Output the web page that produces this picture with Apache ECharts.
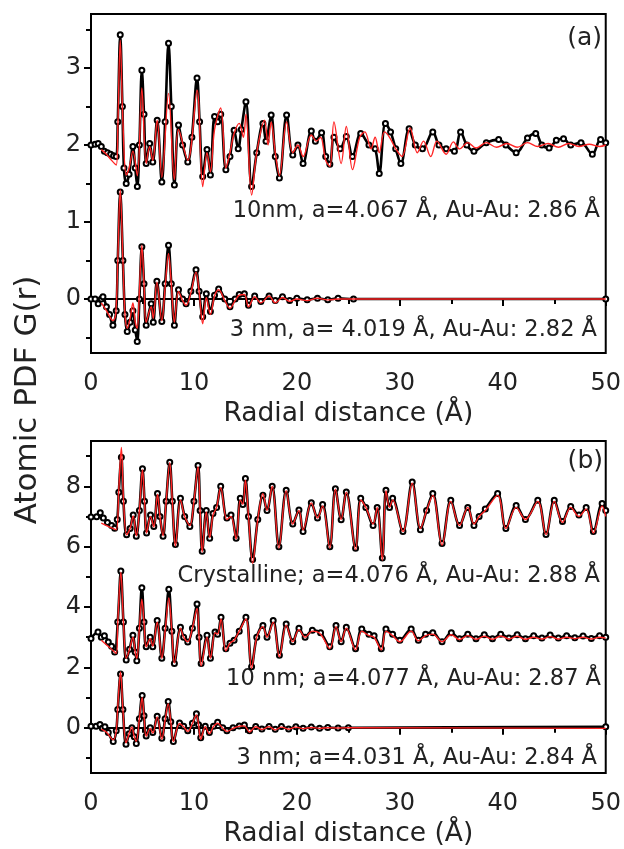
<!DOCTYPE html>
<html>
<head>
<meta charset="utf-8">
<script src="https://cdn.jsdelivr.net/npm/echarts@6/dist/echarts.min.js"></script>
<style>html,body{margin:0;padding:0;background:#fff}#chart{width:624px;height:849px}</style>
</head>
<body>
<div id="chart"></div>
<script>
// r (Å), G(r); curves already include their vertical offsets
const a10Exp = [[0.0,2.0],[0.4,2.01],[0.7,2.02],[1.0,1.98],[1.3,1.92],[1.6,1.9],[1.9,1.88],[2.2,1.86],[2.45,1.85],[2.6,2.3],[2.84,3.43],[3.05,2.5],[3.2,1.7],[3.42,1.5],[3.7,1.62],[4.07,1.98],[4.3,1.7],[4.5,1.46],[4.7,2.0],[4.94,2.97],[5.15,2.4],[5.36,1.76],[5.7,2.02],[6.0,1.78],[6.43,2.32],[6.88,1.52],[7.2,2.3],[7.53,3.32],[7.8,2.5],[8.1,1.48],[8.5,2.26],[8.9,2.0],[9.4,1.78],[9.8,2.1],[10.3,2.87],[10.55,2.3],[10.85,1.59],[11.27,1.94],[11.6,1.61],[12.0,2.37],[12.3,2.3],[12.6,2.4],[13.1,1.68],[13.5,1.85],[13.9,2.19],[14.3,1.95],[14.6,2.2],[15.05,2.56],[15.6,1.46],[16.1,1.9],[16.7,2.28],[17.0,2.05],[17.5,2.39],[17.9,1.85],[18.3,1.57],[19.0,2.39],[19.6,1.87],[20.1,2.0],[20.6,1.76],[21.4,2.18],[21.8,2.05],[22.4,2.16],[22.8,1.85],[23.2,1.75],[23.6,2.1],[24.2,1.95],[24.8,2.11],[25.4,1.85],[26.2,2.15],[27.0,2.0],[27.6,1.95],[28.0,1.63],[28.6,2.28],[29.1,2.17],[29.6,1.95],[30.1,1.76],[30.9,2.21],[31.5,2.0],[32.2,1.95],[33.2,2.17],[33.8,2.0],[34.5,1.95],[35.3,1.92],[35.9,2.17],[36.5,2.0],[37.2,1.92],[38.4,2.03],[39.6,2.07],[40.3,2.0],[41.3,1.9],[42.4,2.09],[43.2,2.15],[43.8,2.0],[44.5,1.96],[45.2,2.06],[45.9,2.08],[46.6,2.0],[47.6,2.03],[48.7,1.88],[49.5,2.07],[50.0,2.03]];
const a10Fit = [[1.0,1.94],[1.5,1.88],[2.0,1.8],[2.45,1.74],[2.6,2.2],[2.84,3.36],[3.1,2.3],[3.42,1.61],[3.7,1.7],[4.07,1.92],[4.5,1.6],[4.94,2.74],[5.36,1.76],[5.7,1.98],[6.0,1.8],[6.43,2.32],[6.88,1.58],[7.53,2.67],[8.1,1.55],[8.5,2.2],[9.4,1.8],[10.3,2.71],[10.85,1.46],[11.27,1.9],[11.6,1.65],[12.0,2.2],[12.6,2.48],[13.1,1.7],[13.5,1.9],[13.9,2.15],[14.4,2.28],[14.8,2.1],[15.05,2.4],[15.6,1.35],[16.1,1.9],[16.86,2.32],[17.2,2.0],[17.5,2.3],[17.9,1.9],[18.3,1.6],[19.0,2.3],[19.6,1.9],[20.1,2.0],[20.6,1.85],[21.4,2.13],[21.9,2.05],[22.3,2.1],[22.8,1.8],[23.2,1.72],[23.6,2.3],[24.3,1.76],[24.8,2.24],[25.4,1.68],[26.1,2.1],[26.6,2.17],[27.2,1.95],[27.6,2.1],[28.0,1.9],[28.5,2.17],[29.0,2.1],[29.6,1.95],[30.2,1.85],[31.0,2.22],[31.7,1.9],[32.3,2.05],[33.0,1.85],[33.6,2.05],[34.5,1.88],[35.2,2.04],[35.8,1.95],[36.6,2.03],[37.4,1.96],[38.4,2.03],[39.4,1.97],[40.4,2.02],[41.4,1.97],[42.4,2.03],[43.4,1.98],[44.4,2.02],[45.4,1.97],[46.4,2.02],[47.4,1.98],[48.4,2.01],[49.4,1.98],[50.0,2.0]];
const a3Exp = [[0.0,0.0],[0.4,0.0],[0.7,-0.06],[1.0,0.0],[1.16,0.03],[1.5,-0.1],[1.8,-0.2],[2.13,-0.34],[2.45,-0.15],[2.6,0.5],[2.84,1.39],[3.1,0.5],[3.3,-0.2],[3.52,-0.42],[3.8,-0.3],[4.07,-0.15],[4.3,-0.4],[4.49,-0.55],[4.7,0.0],[4.94,0.68],[5.15,0.2],[5.36,-0.34],[5.85,-0.06],[6.05,-0.3],[6.4,0.23],[6.88,-0.29],[7.2,0.2],[7.53,0.70],[7.8,0.2],[8.1,-0.34],[8.5,0.12],[8.9,0.0],[9.24,-0.06],[9.7,0.1],[10.2,0.38],[10.5,0.1],[10.85,-0.23],[11.2,0.07],[11.6,-0.16],[12.0,0.05],[12.4,0.13],[13.0,0.0],[13.5,-0.1],[14.0,0.0],[14.4,0.06],[14.9,0.07],[15.3,-0.08],[15.9,0.04],[16.5,-0.03],[17.3,0.04],[17.9,-0.02],[18.6,0.03],[19.3,-0.02],[20.0,0.01],[21.0,-0.01],[22.0,0.01],[23.0,-0.01],[24.0,0.01],[25.5,0.0],[50.0,0.0]];
const a3Fit = [[1.0,-0.05],[1.5,-0.15],[2.13,-0.28],[2.4,-0.2],[2.6,0.5],[2.84,1.42],[3.1,0.5],[3.3,-0.2],[3.52,-0.38],[3.8,-0.25],[4.07,-0.05],[4.3,-0.3],[4.49,-0.38],[4.7,0.1],[4.94,0.7],[5.15,0.2],[5.36,-0.3],[5.85,-0.1],[6.05,-0.25],[6.4,0.22],[6.88,-0.28],[7.2,0.15],[7.53,0.59],[7.8,0.2],[8.1,-0.3],[8.5,0.1],[8.9,-0.02],[9.24,-0.08],[9.7,0.08],[10.2,0.35],[10.5,0.1],[10.85,-0.32],[11.2,0.02],[11.6,-0.2],[12.0,0.04],[12.4,0.12],[13.0,-0.02],[13.5,-0.12],[14.0,-0.02],[14.4,0.05],[14.9,0.06],[15.3,-0.1],[15.9,0.03],[16.5,-0.05],[17.3,0.04],[17.9,-0.05],[18.6,0.02],[19.3,-0.03],[20.0,0.0],[21.0,-0.02],[22.0,0.01],[23.0,-0.01],[24.0,0.0],[50.0,0.0]];

const bcExp = [[0.0,6.98],[0.55,6.99],[0.9,7.12],[1.2,6.95],[1.6,6.8],[2.0,6.7],[2.3,6.61],[2.55,6.9],[2.7,7.8],[2.95,8.96],[3.15,7.5],[3.46,6.39],[3.8,6.6],[4.1,7.05],[4.4,6.34],[4.7,7.2],[5.0,8.58],[5.2,7.5],[5.4,6.45],[5.78,7.05],[6.1,6.67],[6.46,7.76],[6.7,7.0],[7.0,6.34],[7.3,7.5],[7.65,8.80],[7.9,7.5],[8.2,6.07],[8.69,7.6],[9.1,7.0],[9.6,6.67],[10.0,7.5],[10.4,8.69],[10.6,7.2],[10.8,5.85],[11.2,7.2],[11.53,6.28],[11.85,7.1],[12.2,7.3],[12.6,8.0],[13.2,6.95],[13.6,7.05],[14.1,6.28],[14.5,7.6],[14.75,7.4],[15.0,8.26],[15.3,7.0],[15.7,5.57],[16.2,6.9],[16.7,7.7],[17.1,7.2],[17.6,8.0],[18.25,6.0],[18.96,7.87],[19.6,6.75],[20.2,7.21],[20.6,6.5],[21.4,7.45],[22.0,6.95],[22.5,7.4],[23.2,6.0],[23.74,7.92],[24.3,6.89],[24.8,7.81],[25.7,5.95],[26.2,7.6],[26.7,7.3],[27.4,6.7],[27.8,7.3],[28.3,5.62],[28.65,7.87],[29.0,7.3],[29.3,7.6],[30.3,6.5],[31.2,8.14],[32.0,6.56],[32.6,7.2],[33.2,7.76],[34.1,6.1],[34.95,7.54],[35.8,6.7],[36.6,7.3],[37.2,6.7],[37.7,7.0],[38.3,7.25],[39.5,7.76],[40.3,6.6],[41.3,7.36],[42.2,6.9],[43.4,7.54],[44.2,6.4],[45.0,7.54],[45.8,6.83],[46.6,7.33],[47.4,7.05],[48.1,7.3],[48.8,6.5],[49.65,7.43],[50.0,7.2]];
const bcFit = [[1.0,6.78],[1.5,6.7],[2.0,6.62],[2.45,6.56],[2.7,7.9],[2.95,9.29],[3.15,7.6],[3.46,6.39],[3.8,6.6],[4.1,7.02],[4.4,6.36],[4.7,7.2],[5.0,8.55],[5.2,7.5],[5.4,6.45],[5.78,7.0],[6.1,6.65],[6.46,7.74],[6.7,7.0],[7.0,6.36],[7.3,7.5],[7.65,8.78],[7.9,7.5],[8.2,6.02],[8.69,7.55],[9.1,7.0],[9.6,6.7],[10.0,7.5],[10.4,8.65],[10.6,7.2],[10.8,5.82],[11.2,7.15],[11.53,6.3],[11.85,7.05],[12.2,7.3],[12.6,7.95],[13.2,6.9],[13.6,7.0],[14.1,6.25],[14.5,7.55],[14.75,7.4],[15.0,8.2],[15.3,7.0],[15.7,5.45],[16.2,6.9],[16.7,7.75],[17.1,7.2],[17.6,8.0],[18.25,5.95],[18.96,7.85],[19.6,6.75],[20.2,7.2],[20.6,6.55],[21.4,7.45],[22.0,6.95],[22.5,7.35],[23.2,5.95],[23.74,7.9],[24.3,6.9],[24.8,7.8],[25.7,5.9],[26.2,7.55],[26.7,7.3],[27.4,6.75],[27.8,7.3],[28.3,5.55],[28.65,7.85],[29.0,7.3],[29.3,7.55],[30.3,6.5],[31.2,8.1],[32.0,6.6],[32.6,7.2],[33.2,7.7],[34.1,6.05],[34.95,7.5],[35.8,6.7],[36.6,7.3],[37.2,6.75],[37.7,7.0],[38.3,7.2],[39.5,7.7],[40.3,6.6],[41.3,7.3],[42.2,6.9],[43.4,7.5],[44.2,6.4],[45.0,7.5],[45.8,6.8],[46.6,7.3],[47.4,7.0],[48.1,7.25],[48.8,6.45],[49.65,7.35],[50.0,7.0]];
const b10Exp = [[0.0,2.96],[0.68,3.17],[1.0,3.0],[1.3,3.05],[1.68,2.84],[2.0,2.7],[2.3,2.51],[2.6,3.5],[2.9,5.19],[3.15,3.5],[3.42,2.24],[3.75,2.6],[4.07,3.06],[4.3,2.5],[4.45,2.22],[4.7,3.3],[4.94,4.64],[5.15,3.5],[5.36,2.68],[5.75,3.0],[6.0,2.68],[6.43,3.55],[6.88,2.30],[7.2,3.3],[7.56,4.59],[7.85,3.2],[8.1,2.13],[8.69,3.33],[9.0,3.0],[9.4,2.84],[9.85,3.3],[10.3,4.1],[10.5,3.0],[10.7,2.13],[11.27,3.06],[11.6,2.30],[12.05,3.17],[12.3,3.1],[12.63,3.66],[13.1,2.62],[13.5,2.8],[13.9,2.9],[14.4,3.2],[15.05,3.66],[15.6,2.02],[16.1,3.0],[16.7,3.39],[17.1,3.0],[17.7,3.55],[18.3,2.4],[18.96,3.44],[19.6,2.85],[20.2,3.3],[20.8,3.0],[21.5,3.23],[22.3,3.15],[23.2,2.68],[23.8,3.39],[24.3,2.85],[24.8,3.33],[25.7,2.62],[26.3,3.27],[27.0,3.1],[27.5,3.05],[28.2,2.62],[28.65,3.27],[29.3,3.1],[30.0,2.9],[31.1,3.27],[31.8,2.9],[32.5,3.1],[33.2,3.15],[34.1,2.85],[35.0,3.15],[35.8,2.95],[36.6,3.1],[37.4,2.95],[38.2,3.08],[39.0,2.95],[39.8,3.1],[40.6,2.97],[41.4,3.08],[42.2,2.95],[43.0,3.05],[43.8,2.97],[44.6,3.07],[45.4,2.97],[46.2,3.05],[47.0,2.98],[47.8,3.04],[48.6,2.96],[49.4,3.05],[50.0,3.0]];
const b10Fit = [[1.0,2.9],[1.5,2.75],[2.0,2.6],[2.45,2.46],[2.6,3.5],[2.9,5.15],[3.15,3.5],[3.42,2.3],[3.75,2.6],[4.07,3.0],[4.3,2.5],[4.45,2.3],[4.7,3.3],[4.94,4.26],[5.15,3.5],[5.36,2.68],[5.75,2.95],[6.0,2.7],[6.43,3.5],[6.88,2.3],[7.2,3.2],[7.56,4.3],[7.85,3.2],[8.1,2.15],[8.69,3.3],[9.0,3.0],[9.4,2.85],[9.85,3.3],[10.3,3.95],[10.5,3.0],[10.7,2.05],[11.27,3.0],[11.6,2.3],[12.05,3.15],[12.3,3.1],[12.63,3.6],[13.1,2.55],[13.5,2.8],[13.9,2.9],[14.4,3.2],[15.05,3.6],[15.6,1.97],[16.1,3.0],[16.7,3.35],[17.1,3.0],[17.7,3.5],[18.3,2.35],[18.96,3.4],[19.6,2.85],[20.2,3.25],[20.8,3.0],[21.5,3.2],[22.3,3.1],[23.2,2.62],[23.8,3.35],[24.3,2.85],[24.8,3.3],[25.7,2.58],[26.3,3.2],[27.0,3.05],[27.5,3.0],[28.2,2.58],[28.65,3.2],[29.3,3.05],[30.0,2.85],[31.1,3.2],[31.8,2.88],[32.5,3.05],[33.2,3.1],[34.1,2.85],[35.0,3.08],[35.8,2.92],[36.6,3.05],[37.4,2.93],[38.2,3.03],[39.0,2.93],[39.8,3.04],[40.6,2.94],[41.4,3.03],[42.2,2.93],[43.0,3.0],[43.8,2.94],[44.6,3.02],[45.4,2.94],[46.2,3.0],[47.0,2.95],[47.8,3.0],[48.6,2.94],[49.4,3.0],[50.0,2.97]];
const b3Exp = [[0.0,0.05],[0.5,0.05],[0.87,0.11],[1.1,-0.02],[1.35,0.03],[1.68,-0.16],[2.16,-0.46],[2.45,-0.1],[2.6,0.6],[2.87,1.78],[3.1,0.6],[3.4,-0.55],[3.7,-0.2],[3.97,0.0],[4.2,-0.3],[4.4,-0.52],[4.7,0.3],[4.97,1.07],[5.15,0.4],[5.36,-0.27],[5.75,0.0],[6.0,-0.16],[6.43,0.38],[6.88,-0.35],[7.2,0.3],[7.5,0.87],[7.75,0.2],[8.0,-0.46],[8.6,0.16],[9.0,0.05],[9.4,-0.1],[9.85,0.15],[10.24,0.46],[10.45,0.1],[10.66,-0.33],[11.1,0.05],[11.5,-0.16],[11.9,0.05],[12.3,0.18],[12.8,0.0],[13.2,-0.1],[13.8,0.0],[14.4,0.06],[14.9,0.09],[15.4,-0.1],[16.0,0.04],[16.6,-0.04],[17.3,0.04],[17.9,-0.05],[18.5,0.04],[19.2,-0.04],[19.9,0.03],[20.6,-0.02],[21.4,0.02],[22.2,-0.02],[23.0,0.01],[24.0,-0.01],[25.0,0.0],[50.0,0.03]];
const b3Fit = [[1.0,-0.05],[1.5,-0.15],[2.16,-0.4],[2.45,-0.1],[2.6,0.7],[2.87,1.85],[3.1,0.6],[3.4,-0.5],[3.7,-0.2],[3.97,0.02],[4.2,-0.3],[4.4,-0.45],[4.7,0.3],[4.97,1.0],[5.15,0.4],[5.36,-0.28],[5.75,-0.02],[6.0,-0.18],[6.43,0.36],[6.88,-0.38],[7.2,0.25],[7.5,0.8],[7.75,0.2],[8.0,-0.45],[8.6,0.14],[9.0,0.03],[9.4,-0.12],[9.85,0.14],[10.24,0.42],[10.45,0.1],[10.66,-0.38],[11.1,0.03],[11.5,-0.2],[11.9,0.04],[12.3,0.15],[12.8,-0.02],[13.2,-0.12],[13.8,-0.02],[14.4,0.05],[14.9,0.06],[15.4,-0.14],[16.0,0.03],[16.6,-0.06],[17.3,0.03],[17.9,-0.07],[18.5,0.02],[19.2,-0.05],[19.9,0.02],[20.6,-0.03],[21.4,0.01],[22.2,-0.02],[23.0,0.0],[24.0,-0.01],[25.0,0.0],[50.0,-0.02]];

const xTicks = [0, 10, 20, 30, 40, 50];
const yTicksA = [0, 1, 2, 3];
const yMinorA = [-0.5, 0.5, 1.5, 2.5, 3.5];
const yTicksB = [0, 2, 4, 6, 8];
const yMinorB = [-1, 1, 3, 5, 7, 9];

const labelsA = ['10nm, a=4.067 Å, Au-Au: 2.86 Å', '3 nm, a= 4.019 Å, Au-Au: 2.82 Å'];
const labelsB = ['Crystalline; a=4.076 Å, Au-Au: 2.88 Å', '10 nm; a=4.077 Å, Au-Au: 2.87 Å', '3 nm; a=4.031 Å, Au-Au: 2.84 Å'];

const FONT = '"DejaVu Sans", Verdana, sans-serif';
const TXT = '#222';

function xAxisFor(gi) {
  return {
    type: 'value', gridIndex: gi, min: xTicks[0], max: xTicks[xTicks.length - 1], interval: 10,
    axisLine: { lineStyle: { color: '#000', width: 2 } },
    axisTick: { inside: false, length: 7, lineStyle: { color: '#000', width: 2 } },
    minorTick: { show: true, splitNumber: 2, length: 5, lineStyle: { color: '#000', width: 2 } },
    splitLine: { show: false },
    axisLabel: { fontSize: 24, color: TXT, fontFamily: FONT, margin: 19 },
    name: 'Radial distance (Å)', nameLocation: 'middle', nameGap: 48,
    nameTextStyle: { fontSize: 26.5, color: TXT, fontFamily: FONT }
  };
}
function yAxisFor(gi, min, max, major, minor) {
  const base = {
    type: 'value', gridIndex: gi, min: min, max: max, position: 'left',
    axisLine: { show: true, lineStyle: { color: '#000', width: 2 } },
    splitLine: { show: false }
  };
  return [
    Object.assign({}, base, {
      axisTick: { show: true, length: 7, customValues: major, lineStyle: { color: '#000', width: 2 } },
      axisLabel: { customValues: major, fontSize: 24, color: TXT, fontFamily: FONT, margin: 10 }
    }),
    Object.assign({}, base, {
      axisTick: { show: true, length: 5, customValues: minor, lineStyle: { color: '#000', width: 2 } },
      axisLabel: { show: false }
    })
  ];
}
function expSeries(xi, yi, data) {
  return {
    type: 'line', xAxisIndex: xi, yAxisIndex: yi, data: data, smooth: 0.35,
    symbol: 'emptyCircle', symbolSize: 5,
    itemStyle: { color: '#000', borderWidth: 1.1 },
    lineStyle: { color: '#000', width: 2.6 }, z: 2, silent: true
  };
}
function fitSeries(xi, yi, data) {
  return {
    type: 'line', xAxisIndex: xi, yAxisIndex: yi, data: data, smooth: 0.35,
    symbol: 'none', lineStyle: { color: '#ff2424', width: 1.4 }, z: 3, silent: true
  };
}
function label(text, right, y, size) {
  return {
    type: 'text', right: right, top: y - size / 2 + 1,
    style: { text: text, font: size + 'px ' + FONT, fill: TXT }
  };
}

const chart = echarts.init(document.getElementById('chart'), null, { renderer: 'canvas' });
chart.setOption({
  animation: false,
  backgroundColor: '#fff',
  grid: [
    { left: 91, top: 14, width: 516, height: 339, show: true, borderColor: '#000', borderWidth: 2, backgroundColor: 'transparent' },
    { left: 91, top: 441, width: 517, height: 335, show: true, borderColor: '#000', borderWidth: 2, backgroundColor: 'transparent' }
  ],
  xAxis: [xAxisFor(0), xAxisFor(1)],
  yAxis: yAxisFor(0, -0.7, 3.7, yTicksA, yMinorA).concat(yAxisFor(1, -1.5, 9.5, yTicksB, yMinorB)),
  series: [
    expSeries(0, 0, a10Exp), fitSeries(0, 0, a10Fit),
    expSeries(0, 0, a3Exp), fitSeries(0, 0, a3Fit),
    expSeries(1, 2, bcExp), fitSeries(1, 2, bcFit),
    expSeries(1, 2, b10Exp), fitSeries(1, 2, b10Fit),
    expSeries(1, 2, b3Exp), fitSeries(1, 2, b3Fit)
  ],
  graphic: [
    {
      type: 'text', x: 28, y: 400, rotation: Math.PI / 2,
      style: { text: 'Atomic PDF G(r)', font: '31px ' + FONT, fill: TXT, align: 'center', verticalAlign: 'middle' }
    },
    label('(a)', 22, 37, 25),
    label(labelsA[0], 24, 210, 22.5),
    label(labelsA[1], 27, 329, 22.5),
    label('(b)', 21, 460, 25),
    label(labelsB[0], 24, 575, 22.5),
    label(labelsB[1], 23, 678, 22.5),
    label(labelsB[2], 27, 757, 22.5)
  ]
});
</script>
</body>
</html>
